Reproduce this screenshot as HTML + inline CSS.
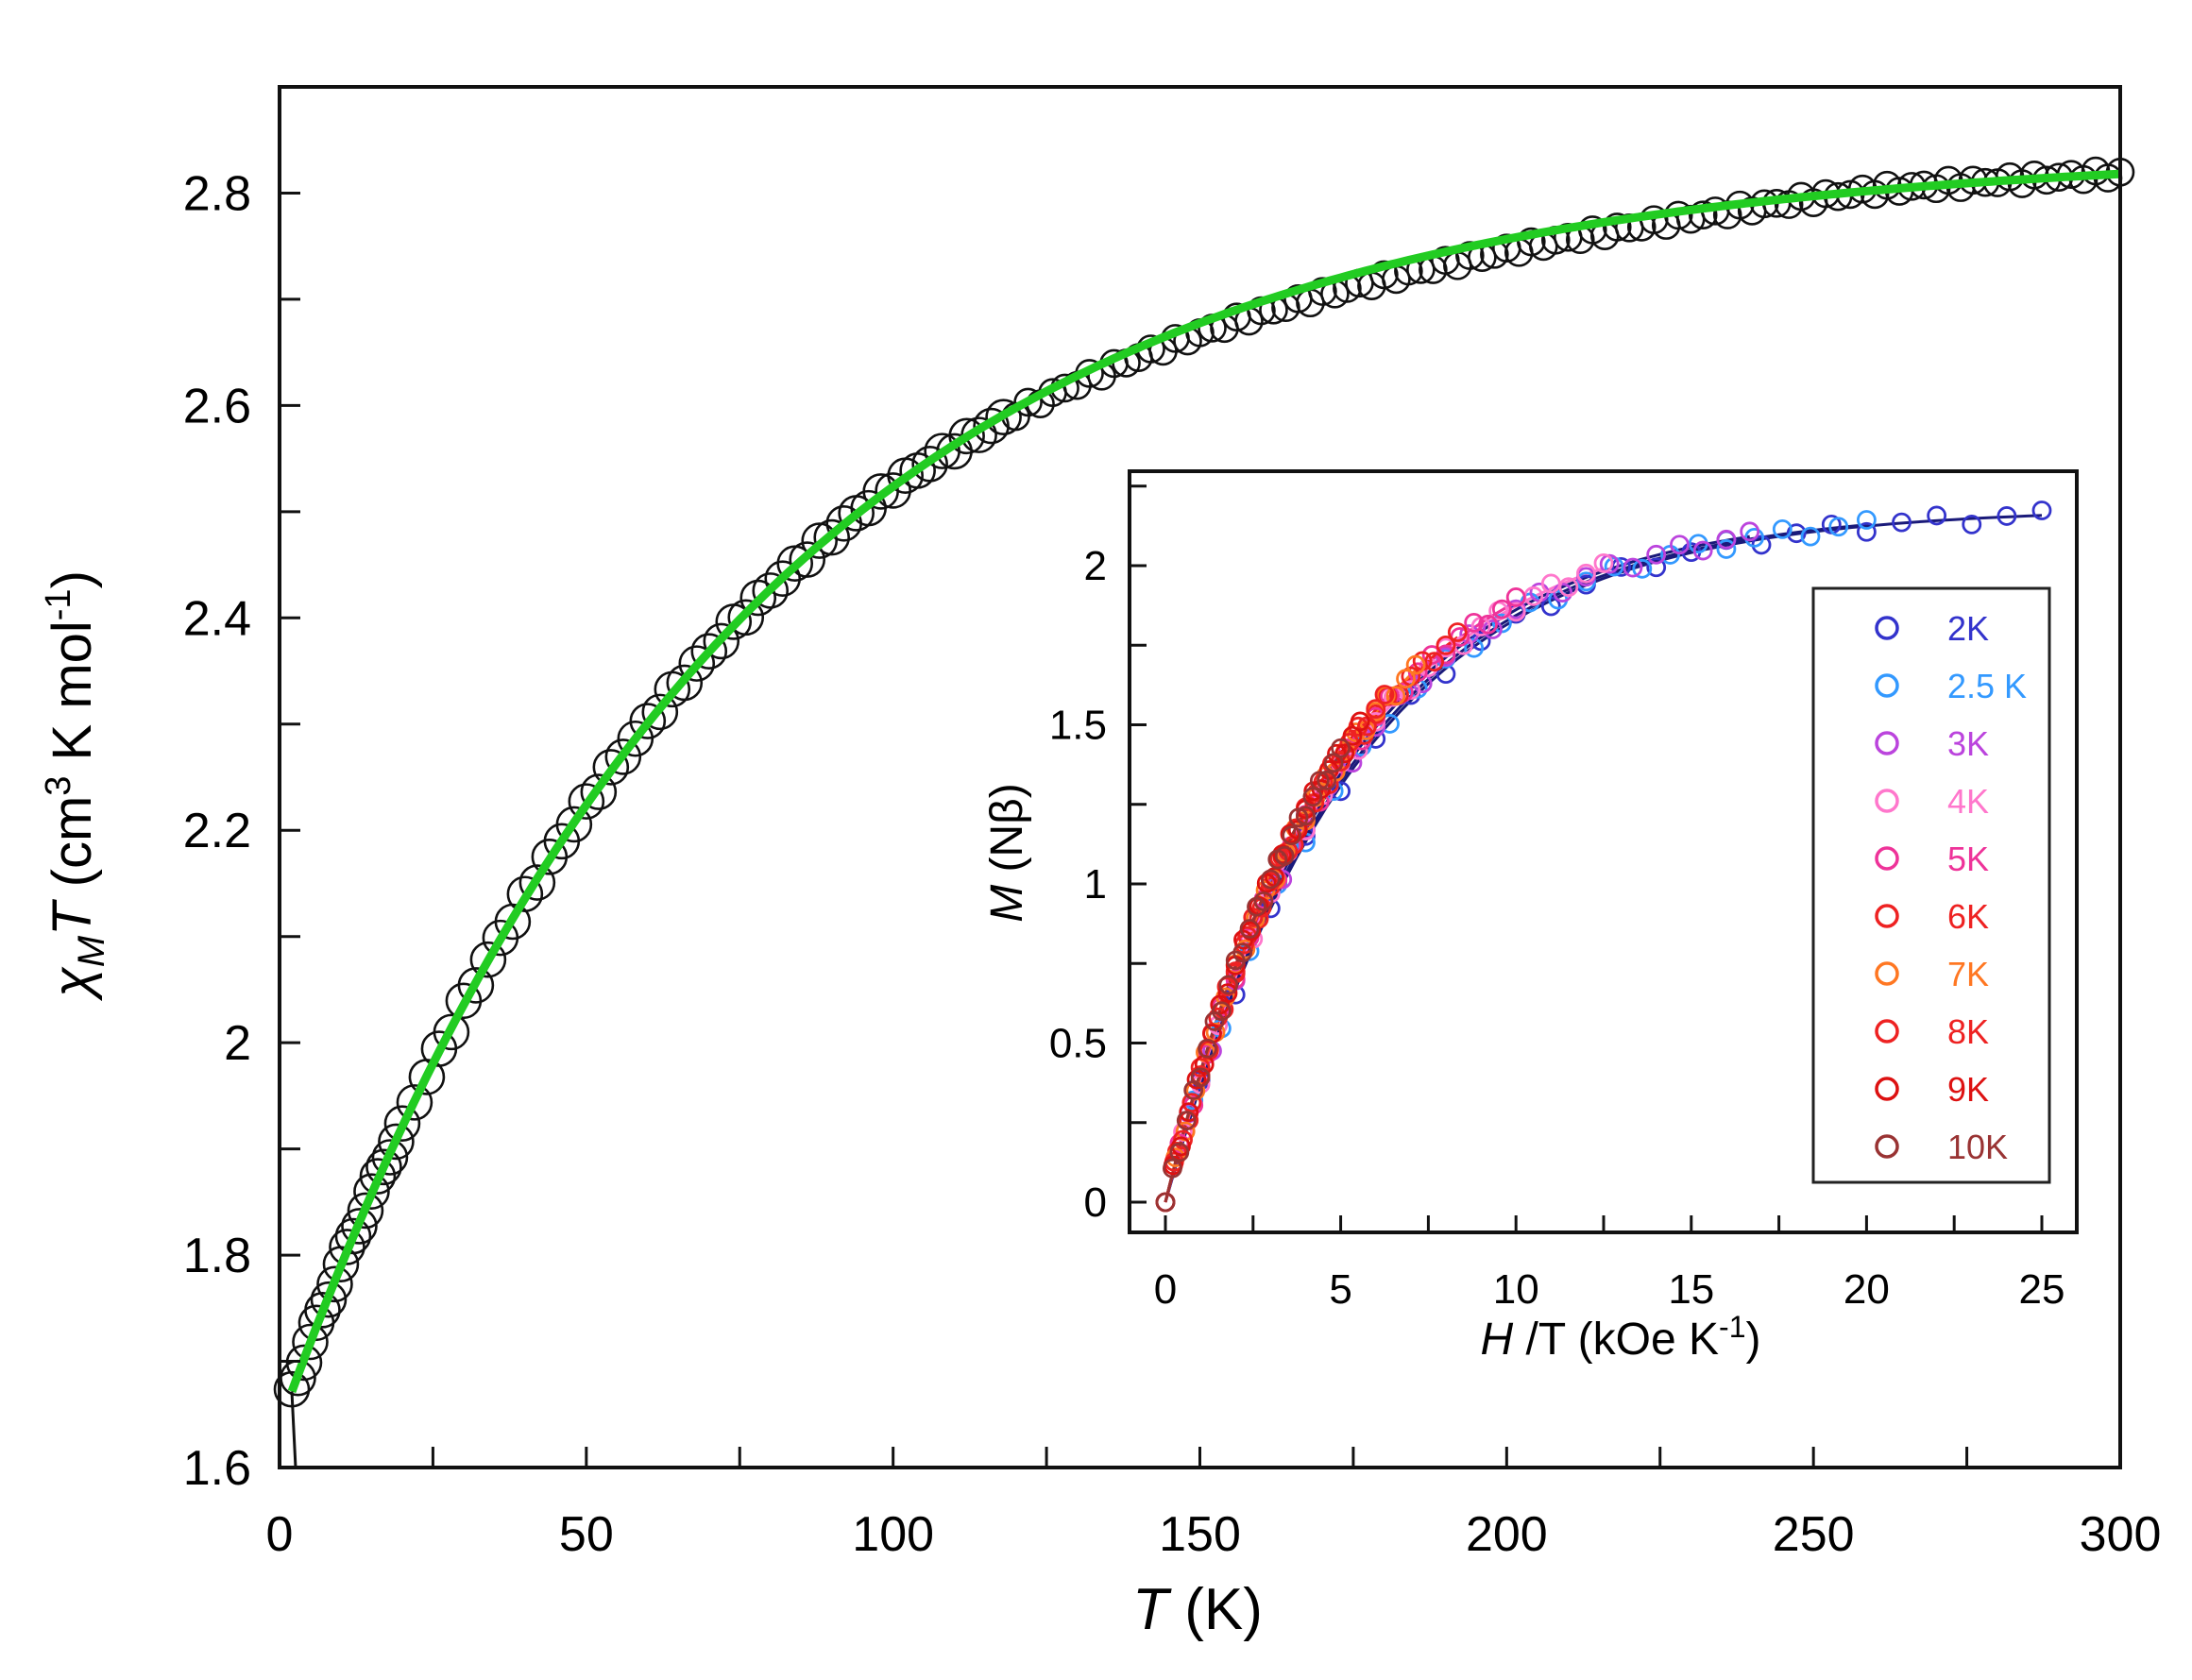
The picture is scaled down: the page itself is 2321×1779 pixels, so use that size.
<!DOCTYPE html>
<html><head><meta charset="utf-8">
<style>
html,body{margin:0;padding:0;background:#fff;}
svg{display:block;font-family:"Liberation Sans","DejaVu Sans",sans-serif;}
</style></head>
<body>
<svg id="s" width="2321" height="1779" viewBox="0 0 2321 1779" xmlns="http://www.w3.org/2000/svg">
<rect width="2321" height="1779" fill="#fff"/>
<g id="main"></g>
<g id="inset"></g>
<text x="1268" y="1725" font-size="62" text-anchor="middle"><tspan font-style="italic">T</tspan>  (K)</text>
<text transform="translate(96,830) rotate(-90)" font-size="58" text-anchor="middle"><tspan font-style="italic">χ</tspan><tspan font-style="italic" font-size="40" dy="14">M</tspan><tspan font-style="italic" dy="-14">T</tspan>  (cm<tspan font-size="38" dy="-22">3</tspan><tspan dy="22"> K mol</tspan><tspan font-size="38" dy="-22">-1</tspan><tspan dy="22">)</tspan></text>
<text x="1716" y="1434" font-size="48" text-anchor="middle"><tspan font-style="italic">H</tspan> /T (kOe K<tspan font-size="32" dy="-18">-1</tspan><tspan dy="18">)</tspan></text>
<text transform="translate(1082,903) rotate(-90)" font-size="48" text-anchor="middle"><tspan font-style="italic">M</tspan>  (Nβ)</text>
</svg>
<script>
const NS="http://www.w3.org/2000/svg";
function el(p,t,a,txt){const e=document.createElementNS(NS,t);for(const k in a)e.setAttribute(k,a[k]);if(txt!==undefined)e.textContent=txt;p.appendChild(e);return e;}
const m=document.getElementById('main');
const L=296,R=2245,T=92,B=1554;
const X=t=>L+(t/300)*(R-L);
const Y=v=>B-(v-1.6)/1.3*(B-T);
const f=t=>2.84-1.2*Math.exp(-t/75);
for(let t=2;t<=300;t+=(t<20?1:2)){
  let off=(t>100&&t<260)?-0.012*Math.sin((t-100)/160*Math.PI):0;
  let v=f(t)+off+0.004*Math.sin(t*1.3);
  let r=t<120?18:14;
  el(m,'circle',{cx:X(t),cy:Y(v),r:r,fill:'none',stroke:'#111','stroke-width':2.6});
}
let d='';for(let t=2;t<=300;t+=1){d+=(t==2?'M':'L')+X(t).toFixed(1)+','+Y(f(t)).toFixed(1);}
el(m,'path',{d:d,fill:'none',stroke:'#22cc22','stroke-width':9});
el(m,'line',{x1:X(2),y1:Y(f(2)),x2:X(2)+4,y2:B,stroke:'#111','stroke-width':3});
el(m,'rect',{x:L,y:T,width:R-L,height:B-T,fill:'none',stroke:'#111','stroke-width':4});
for(let t=0;t<=300;t+=25){const x=X(t);el(m,'line',{x1:x,y1:B,x2:x,y2:B-22,stroke:'#111','stroke-width':3});
 if(t%50==0)el(m,'text',{x:x,y:1642,'font-size':52,'text-anchor':'middle'},String(t));}
for(let i=0;i<=13;i++){const v=1.6+i*0.1;const y=Y(v);el(m,'line',{x1:L,y1:y,x2:L+22,y2:y,stroke:'#111','stroke-width':3});
 if(i%2==0&&v<2.85){let s=(Math.round(v*10)/10).toString();el(m,'text',{x:266,y:y+18,'font-size':52,'text-anchor':'end'},s);}}
const g=document.getElementById('inset');
const iL=1196,iR=2199,iT=499,iB=1305;
el(g,'rect',{x:iL,y:iT,width:iR-iL,height:iB-iT,fill:'#fff',stroke:'#111','stroke-width':4});
const IX=x=>1234+x/5*185.6, IY=v=>1273-v/0.5*168.5;
const ser=[[2,'#3333cc',5.45],[2.5,'#3399ff',5.35],[3,'#bb44dd',5.2],[4,'#ff77cc',5.1],[5,'#ee3399',5.0],[6,'#ee2222',4.95],[7,'#ff7722',4.9],[8,'#ee2222',4.85],[9,'#dd1111',4.8],[10,'#993333',4.8]];
const M=(x,k)=>2.18*(1-Math.exp(-x/k));
for(const [Tk,c,k] of ser){let xm=50/Tk;let p='';for(let i=0;i<=60;i++){const x=xm*i/60;p+=(i?'L':'M')+IX(x).toFixed(1)+','+IY(M(x,k)).toFixed(1);}
 el(g,'path',{d:p,fill:'none',stroke:Tk<=3?'#1a1a7a':c,'stroke-width':3});}
for(const [Tk,c,k] of ser){let xm=50/Tk;const n=25;for(let i=0;i<=n;i++){const x=xm*i/n;const v=M(x,k)+0.02*Math.sin(i*2.1);
 el(g,'circle',{cx:IX(x),cy:IY(v),r:9,fill:'none',stroke:c,'stroke-width':2.8});}}
for(let i=0;i<=10;i++){const x=IX(i*2.5);el(g,'line',{x1:x,y1:iB,x2:x,y2:iB-18,stroke:'#111','stroke-width':3});
 if(i%2==0)el(g,'text',{x:x,y:1380,'font-size':44,'text-anchor':'middle'},String(i*2.5));}
for(let i=0;i<=9;i++){const y=IY(i*0.25);el(g,'line',{x1:iL,y1:y,x2:iL+18,y2:y,stroke:'#111','stroke-width':3});
 if(i%2==0)el(g,'text',{x:1172,y:y+15,'font-size':44,'text-anchor':'end'},String(i*0.25));}
el(g,'rect',{x:1920,y:623,width:250,height:629,fill:'#fff',stroke:'#222','stroke-width':3});
const labs=['2K','2.5 K','3K','4K','5K','6K','7K','8K','9K','10K'];
ser.forEach((s,i)=>{const y=665+i*61;el(g,'circle',{cx:1998,cy:y,r:11,fill:'none',stroke:s[1],'stroke-width':3.5});
 el(g,'text',{x:2062,y:y+13,'font-size':36,fill:s[1]},labs[i]);});
</script>
</body></html>
